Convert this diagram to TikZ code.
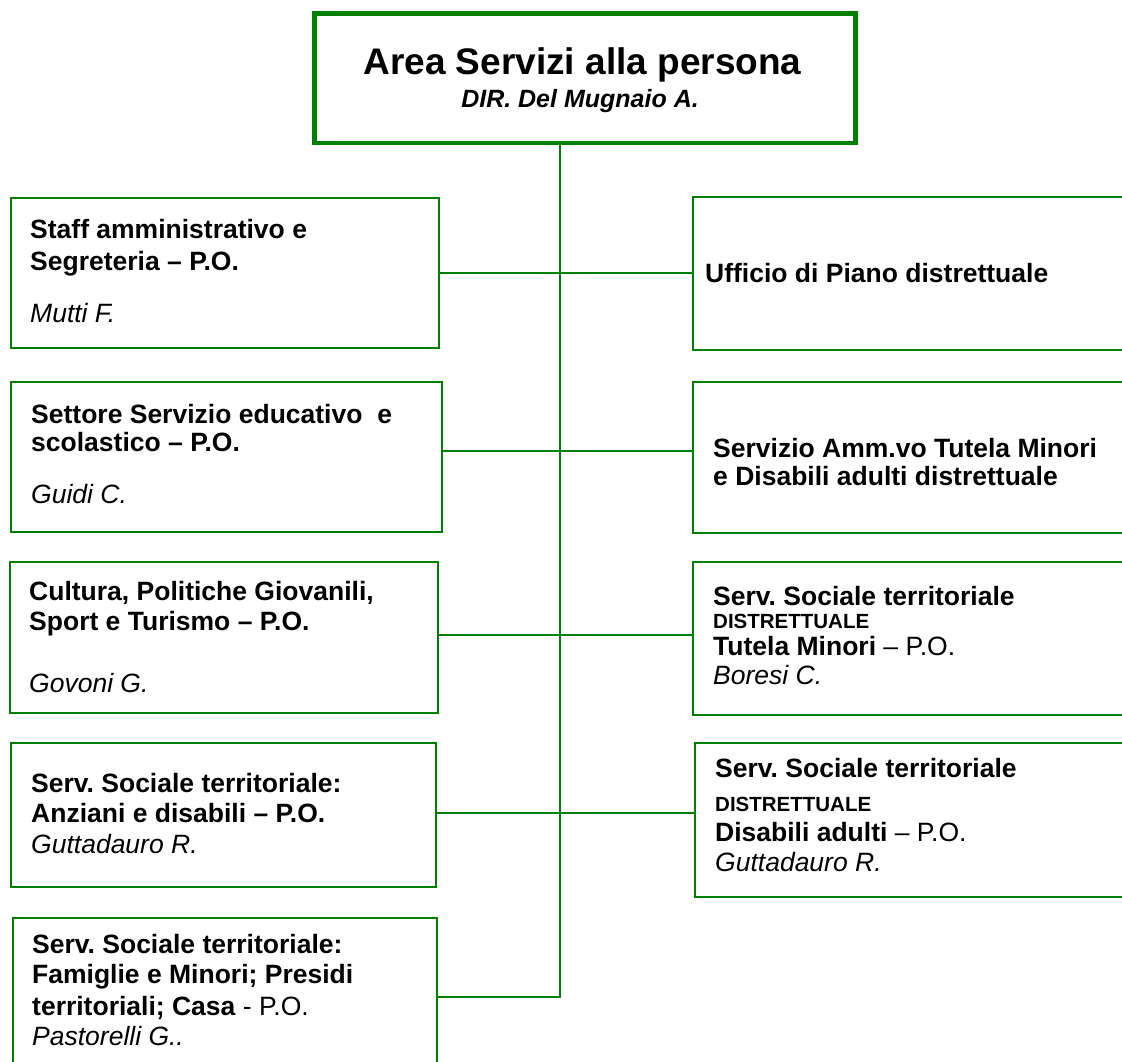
\documentclass[tikz,border=0pt]{standalone}
\usepackage{fontspec}
\setmainfont{Liberation Sans}
\definecolor{orggreen}{RGB}{0,128,0}
\newcommand\szBody{\fontsize{26.5}{30.5}\selectfont}
\newcommand\szTitle{\fontsize{37}{42}\selectfont}
\newcommand\szSub{\fontsize{25}{29}\selectfont}
\newcommand\szCaps{\fontsize{20.5}{24}\selectfont}
\frenchspacing
\begin{document}
\begin{tikzpicture}[x=1pt,y=-1pt,
  box/.style={draw=orggreen, line width=2pt, inner sep=0pt, anchor=north west},
  titlebox/.style={draw=orggreen, line width=4.7pt, inner sep=0pt, anchor=north west},
  link/.style={draw=orggreen, line width=2pt},
  ln/.style={inner sep=0pt, anchor=base west, font=\szBody\bfseries},
  lnr/.style={inner sep=0pt, anchor=base west, font=\szBody},
  nm/.style={inner sep=0pt, anchor=base west, font=\szBody\itshape},
  caps/.style={inner sep=0pt, anchor=base west, font=\szCaps\bfseries},
]
\useasboundingbox (0,0) rectangle (1122,1061);
% title
\node[titlebox, minimum width=541pt, minimum height=129.5pt] (top) at (312,11) {};
\node[inner sep=0pt, anchor=base, font=\szTitle\bfseries] (ttl) at (582.5,74) {Area Servizi alla persona};
\node[inner sep=0pt, anchor=base, font=\szSub\bfseries\itshape] (sub) at (580,107.5) {DIR. Del Mugnaio A.};
% boxes
\node[box, minimum width=428pt, minimum height=150pt] (L1) at (10,197) {};
\node[box, minimum width=431pt, minimum height=150pt] (L2) at (10,381) {};
\node[box, minimum width=428pt, minimum height=151pt] (L3) at (9,561) {};
\node[box, minimum width=425pt, minimum height=144pt] (L4) at (10,742) {};
\node[box, minimum width=424pt, minimum height=160pt] (L5) at (12,917) {};
\node[box, minimum width=440pt, minimum height=153pt] (R1) at (692,196) {};
\node[box, minimum width=440pt, minimum height=151pt] (R2) at (692,381) {};
\node[box, minimum width=440pt, minimum height=153pt] (R3) at (692,561) {};
\node[box, minimum width=438pt, minimum height=154pt] (R4) at (694,742) {};
% texts left
\node[ln] (L1a) at (30,238) {Staff amministrativo e};
\node[ln] (L1b) at (30,270) {Segreteria – P.O.};
\node[nm] (L1c) at (30,322) {Mutti F.};
\node[ln] (L2a) at (31,423) {Settore Servizio educativo\ \ e};
\node[ln] (L2b) at (31,451) {scolastico – P.O.};
\node[nm] (L2c) at (31,503) {Guidi C.};
\node[ln] (L3a) at (29,600) {Cultura, Politiche Giovanili,};
\node[ln] (L3b) at (29,630) {Sport e Turismo – P.O.};
\node[nm] (L3c) at (29,692) {Govoni G.};
\node[ln] (L4a) at (31,792) {Serv. Sociale territoriale:};
\node[ln] (L4b) at (31,822) {Anziani e disabili – P.O.};
\node[nm] (L4c) at (31,853) {Guttadauro R.};
\node[ln] (L5a) at (32,953) {Serv. Sociale territoriale:};
\node[ln] (L5b) at (32,983) {Famiglie e Minori; Presidi};
\node[lnr] (L5c) at (32,1015) {\textbf{territoriali; Casa} - P.O.};
\node[nm] (L5d) at (32,1045) {Pastorelli G..};
% texts right
\node[ln] (R1a) at (705,282) {Ufficio di Piano distrettuale};
\node[ln] (R2a) at (713,457) {Servizio Amm.vo Tutela Minori};
\node[ln] (R2b) at (713,485) {e Disabili adulti distrettuale};
\node[ln] (R3a) at (713,605) {Serv. Sociale territoriale};
\node[caps] (R3b) at (713,628) {DISTRETTUALE};
\node[lnr] (R3c) at (713,655) {\textbf{Tutela Minori} – P.O.};
\node[nm] (R3d) at (713,684) {Boresi C.};
\node[ln] (R4a) at (715,777) {Serv. Sociale territoriale};
\node[caps] (R4b) at (715,811) {DISTRETTUALE};
\node[lnr] (R4c) at (715,841) {\textbf{Disabili adulti} – P.O.};
\node[nm] (R4d) at (715,871) {Guttadauro R.};
% junctions
\coordinate (j1) at (560,273);
\coordinate (j2) at (560,451);
\coordinate (j3) at (560,635);
\coordinate (j4) at (560,813);
\coordinate (j5) at (560,997);
% connectors
\draw[link] (top.south -| j5) -- (j5) -- (L5.east |- j5);
\draw[link] (L1.east |- j1) -- (R1.west |- j1);
\draw[link] (L2.east |- j2) -- (R2.west |- j2);
\draw[link] (L3.east |- j3) -- (R3.west |- j3);
\draw[link] (L4.east |- j4) -- (R4.west |- j4);
\end{tikzpicture}
\end{document}
